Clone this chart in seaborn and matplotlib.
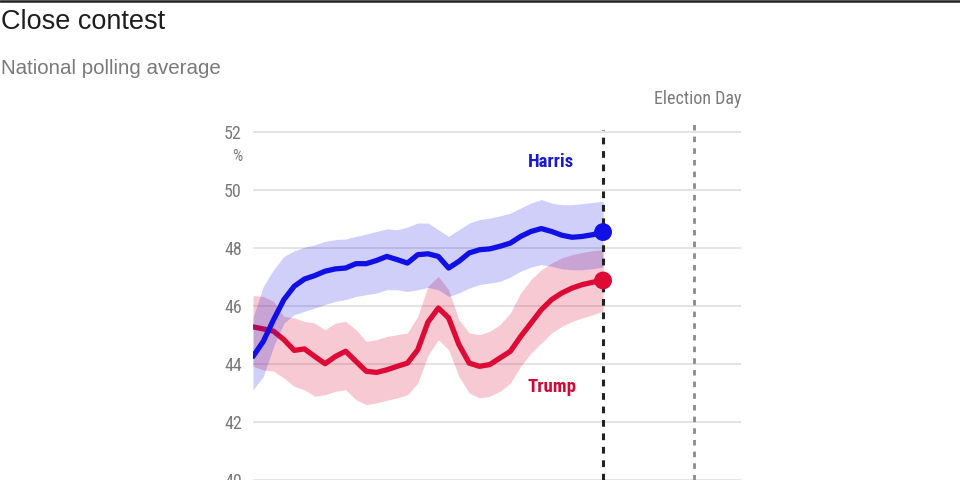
import numpy as np
import pandas as pd
import matplotlib
matplotlib.use("Agg")
import matplotlib.pyplot as plt
import seaborn as sns
from matplotlib.lines import Line2D
from matplotlib import font_manager as fm

# ---- data (days since start of Harris campaign, polling %) ----
days = [2.5 * k for k in range(35)]
harris = [44.26, 44.78, 45.53, 46.22, 46.68, 46.93, 47.05, 47.20, 47.28, 47.31,
          47.46, 47.46, 47.57, 47.71, 47.60, 47.48, 47.77, 47.80, 47.71, 47.31,
          47.54, 47.83, 47.94, 47.97, 48.06, 48.17, 48.40, 48.57, 48.67, 48.57,
          48.44, 48.37, 48.40, 48.46, 48.55]
harris_hi = [45.60, 46.68, 47.25, 47.71, 47.90, 48.03, 48.11, 48.23, 48.29, 48.31,
             48.40, 48.48, 48.57, 48.66, 48.63, 48.72, 48.86, 48.86, 48.63, 48.40,
             48.63, 48.86, 48.98, 49.03, 49.11, 49.20, 49.38, 49.55, 49.67, 49.55,
             49.49, 49.49, 49.53, 49.57, 49.61]
harris_lo = [43.11, 43.57, 44.60, 45.41, 45.70, 45.82, 45.93, 46.05, 46.16, 46.22,
             46.33, 46.39, 46.45, 46.56, 46.56, 46.50, 46.56, 46.64, 46.56, 46.33,
             46.45, 46.62, 46.74, 46.79, 46.85, 47.00, 47.20, 47.34, 47.43, 47.37,
             47.28, 47.25, 47.25, 47.29, 47.34]
trump = [45.28, 45.21, 45.13, 44.84, 44.47, 44.52, 44.26, 44.01, 44.26, 44.44,
         44.09, 43.75, 43.71, 43.80, 43.92, 44.03, 44.49, 45.45, 45.93, 45.59,
         44.67, 44.03, 43.92, 43.98, 44.21, 44.44, 44.95, 45.41, 45.87, 46.22,
         46.45, 46.62, 46.74, 46.82, 46.88]
trump_hi = [46.36, 46.33, 46.16, 45.64, 45.59, 45.47, 45.41, 45.18, 45.41, 45.47,
            45.18, 44.78, 44.84, 44.95, 45.01, 45.07, 45.64, 46.68, 47.02, 46.56,
            45.53, 45.07, 45.01, 45.13, 45.36, 45.76, 46.45, 46.91, 47.25, 47.48,
            47.66, 47.77, 47.85, 47.91, 47.94]
trump_lo = [43.92, 43.80, 43.75, 43.52, 43.23, 43.11, 42.89, 42.94, 43.06, 43.11,
            42.77, 42.60, 42.66, 42.75, 42.83, 42.94, 43.34, 44.30, 44.84, 44.49,
            43.57, 43.00, 42.83, 42.89, 43.06, 43.34, 43.92, 44.38, 44.72, 45.07,
            45.30, 45.47, 45.59, 45.70, 45.82]
election_day = 107
y_ticks = [40, 42, 44, 46, 48, 50, 52]

BLUE = "#1010e6"
RED = "#dc0a34"
GRAY = "#7a7a7a"

sns.set_theme(style="white")
plt.rcParams["font.family"] = ["Liberation Sans", "DejaVu Sans"]

# pick a condensed face if one is installed
_fonts = fm.fontManager.ttflist
_names = {f.name for f in _fonts}
if "Liberation Sans Narrow" in _names:
    COND = dict(family=["Liberation Sans Narrow", "DejaVu Sans"])
elif "Roboto Condensed" in _names:
    COND = dict(family=["Roboto Condensed", "DejaVu Sans"])
elif any(f.name == "DejaVu Sans" and f.stretch == "condensed" for f in _fonts):
    COND = dict(family=["DejaVu Sans"], stretch="condensed")
else:
    COND = dict(family=["DejaVu Sans"])

df = pd.DataFrame({"day": days, "Harris": harris, "Trump": trump})

fig = plt.figure(figsize=(9.6, 4.8), dpi=100)
ax = fig.add_axes([253 / 960, 0.0, (741 - 253) / 960, 360 / 480])
ax.set_xlim(0, 118.5)
ax.set_ylim(40, 52.414)

# grid
for t in y_ticks:
    ax.axhline(t, color="#dcdcdc", lw=1.1, zorder=0)

# Trump band + line
ax.fill_between(days, trump_lo, trump_hi, color=RED, alpha=0.22, lw=0, zorder=1)
sns.lineplot(data=df, x="day", y="Trump", ax=ax, color=RED, lw=3.8, zorder=2,
             solid_capstyle="round", solid_joinstyle="round")
# Harris band + line
ax.fill_between(days, harris_lo, harris_hi, color=BLUE, alpha=0.2, lw=0, zorder=3)
sns.lineplot(data=df, x="day", y="Harris", ax=ax, color=BLUE, lw=3.8, zorder=4,
             solid_capstyle="round", solid_joinstyle="round")

# end dots
sns.scatterplot(x=[days[-1]], y=[harris[-1]], ax=ax, color=BLUE, s=165, edgecolor="none", zorder=6)
sns.scatterplot(x=[days[-1]], y=[trump[-1]], ax=ax, color=RED, s=165, edgecolor="none", zorder=6)

# vertical reference lines
ax.plot([days[-1], days[-1]], [40, 52.07], color="#222222", lw=2.2,
        dashes=(2.2, 2.2), zorder=5, clip_on=False)
ax.plot([election_day, election_day], [40, 52.28], color="#8a8a8a", lw=2.0,
        dashes=(2.0, 2.2), zorder=5, clip_on=False)

# labels
ax.text(72.4, 50.95, "Harris", color="#1a1ad0", fontsize=13.5, fontweight="bold",
        ha="center", va="center", **COND)
ax.text(72.6, 43.22, "Trump", color="#d00a34", fontsize=13.5, fontweight="bold",
        ha="center", va="center", **COND)

# axes styling
ax.set_yticks(y_ticks)
ax.set_yticklabels([str(t) for t in y_ticks], fontsize=13, color=GRAY, **COND)
ax.tick_params(axis="y", length=0, pad=8)
ax.set_xticks([])
ax.set_xlabel("")
ax.set_ylabel("")
for s in ax.spines.values():
    s.set_visible(False)
ax.text(-3.9, 51.15, "%", color=GRAY, fontsize=11.5, ha="center", va="center", **COND)

# titles
fig.text(1 / 960, 1 - 22 / 480, "Close contest", fontsize=19.5, color="#1e1e1e",
         ha="left", va="center")
fig.text(1 / 960, 1 - 68 / 480, "National polling average", fontsize=14.8, color=GRAY,
         ha="left", va="center")
fig.text(741 / 960, 1 - 99 / 480, "Election Day", fontsize=13, color=GRAY,
         ha="right", va="center", **COND)

# top rule
fig.add_artist(Line2D([0, 1], [1 - 1 / 480, 1 - 1 / 480], color="#222222", lw=1.8,
                      transform=fig.transFigure))

fig.savefig("out.png", dpi=100)
